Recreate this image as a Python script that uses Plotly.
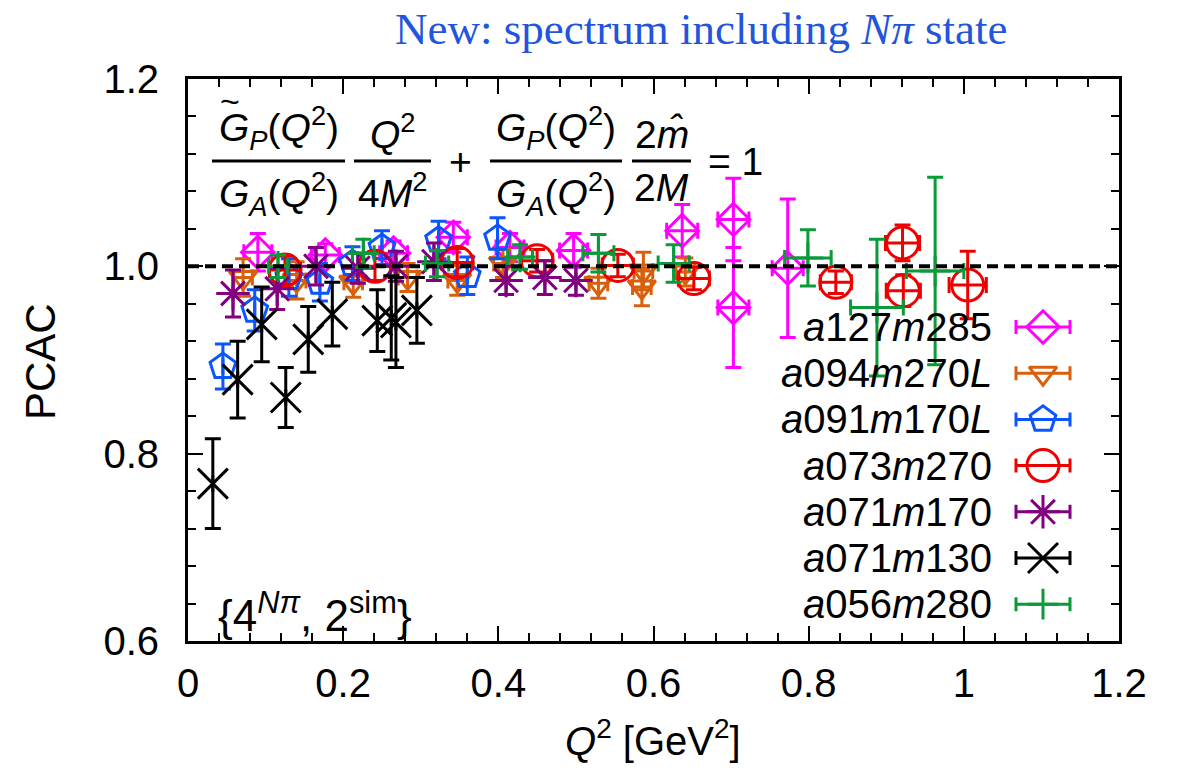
import plotly.graph_objects as go

# ---- data: PCAC ratio vs Q^2 for each ensemble ----
labels = ["a127m285", "a094m270L", "a091m170L", "a073m270", "a071m170", "a071m130", "a056m280"]

q2_a127m285 = [0.090, 0.177, 0.265, 0.342, 0.415, 0.497, 0.637, 0.703, 0.703, 0.773]
pc_a127m285 = [1.015, 1.012, 1.014, 1.031, 1.020, 1.017, 1.038, 1.050, 0.956, 0.998]
er_a127m285 = [0.020, 0.012, 0.013, 0.016, 0.015, 0.018, 0.028, 0.044, 0.064, 0.074]
xe_a127m285 = [0.018, 0.018, 0.018, 0.018, 0.018, 0.018, 0.020, 0.020, 0.020, 0.020]

q2_a094m270L = [0.071, 0.140, 0.213, 0.283, 0.347, 0.406, 0.529, 0.585, 0.587, 0.641]
pc_a094m270L = [0.988, 0.985, 0.983, 0.988, 0.985, 1.003, 0.982, 0.978, 0.995, 0.994]
er_a094m270L = [0.020, 0.020, 0.016, 0.015, 0.016, 0.015, 0.016, 0.020, 0.020, 0.015]
xe_a094m270L = [0.012, 0.012, 0.012, 0.012, 0.012, 0.012, 0.012, 0.012, 0.012, 0.012]

q2_a091m170L = [0.045, 0.086, 0.130, 0.170, 0.212, 0.250, 0.323, 0.360, 0.399]
pc_a091m170L = [0.893, 0.953, 0.988, 0.983, 1.003, 1.020, 1.028, 0.990, 1.030]
er_a091m170L = [0.024, 0.022, 0.020, 0.020, 0.018, 0.018, 0.020, 0.020, 0.022]
xe_a091m170L = [0, 0, 0, 0, 0, 0, 0, 0, 0]

q2_a073m270 = [0.125, 0.241, 0.347, 0.450, 0.554, 0.652, 0.835, 0.921, 0.922, 1.005]
pc_a073m270 = [0.996, 1.000, 1.004, 1.006, 1.001, 0.987, 0.983, 1.025, 0.974, 0.980]
er_a073m270 = [0.015, 0.015, 0.015, 0.012, 0.012, 0.012, 0.012, 0.019, 0.017, 0.036]
xe_a073m270 = [0.020, 0.020, 0.020, 0.020, 0.020, 0.020, 0.020, 0.022, 0.022, 0.024]

q2_a071m170 = [0.058, 0.115, 0.165, 0.219, 0.268, 0.317, 0.410, 0.460, 0.500]
pc_a071m170 = [0.971, 0.976, 1.000, 0.998, 1.000, 1.005, 0.985, 0.988, 0.985]
er_a071m170 = [0.025, 0.022, 0.020, 0.016, 0.016, 0.020, 0.015, 0.018, 0.016]
xe_a071m170 = [0, 0, 0, 0, 0, 0, 0, 0, 0]

q2_a071m130 = [0.032, 0.064, 0.095, 0.126, 0.155, 0.186, 0.244, 0.262, 0.268, 0.295]
pc_a071m130 = [0.768, 0.879, 0.938, 0.860, 0.922, 0.949, 0.942, 0.945, 0.940, 0.953]
er_a071m130 = [0.048, 0.041, 0.040, 0.032, 0.035, 0.034, 0.033, 0.045, 0.048, 0.035]
xe_a071m130 = [0, 0, 0, 0, 0, 0, 0, 0, 0, 0]

q2_a056m280 = [0.116, 0.226, 0.321, 0.428, 0.529, 0.626, 0.799, 0.888, 0.963]
pc_a056m280 = [1.000, 1.014, 1.003, 1.010, 1.014, 1.003, 1.009, 0.956, 0.995]
er_a056m280 = [0.012, 0.015, 0.014, 0.013, 0.020, 0.020, 0.030, 0.073, 0.100]
xe_a056m280 = [0.012, 0.014, 0.015, 0.016, 0.020, 0.020, 0.030, 0.034, 0.037]

x_ticks = [0, 0.2, 0.4, 0.6, 0.8, 1.0, 1.2]
x_ticktext = ["0", "0.2", "0.4", "0.6", "0.8", "1", "1.2"]
y_ticks = [0.6, 0.8, 1.0, 1.2]
y_ticktext = ["0.6", "0.8", "1.0", "1.2"]

# ---- styles ----
series = [
    (q2_a127m285, pc_a127m285, er_a127m285, xe_a127m285, "#ff00ff", "diamond-open", 25),
    (q2_a094m270L, pc_a094m270L, er_a094m270L, xe_a094m270L, "#d8600c", "triangle-down-open", 24),
    (q2_a091m170L, pc_a091m170L, er_a091m170L, xe_a091m170L, "#0a55ff", "pentagon-open", 27),
    (q2_a073m270, pc_a073m270, er_a073m270, xe_a073m270, "#ee0000", "circle-open", 32),
    (q2_a071m170, pc_a071m170, er_a071m170, xe_a071m170, "#800080", "asterisk-open", 28),
    (q2_a071m130, pc_a071m130, er_a071m130, xe_a071m130, "#000000", "x-thin-open", 30),
    (q2_a056m280, pc_a056m280, er_a056m280, xe_a056m280, "#0a9a3a", "cross-thin-open", 22),
]

FONT = "Liberation Sans"
FS = 40

# plot area in pixels
L, R, T, B = 188, 1119, 79, 641
W, H = R - L, B - T


def fx(px):
    return (px - L) / W


def fy(py):
    return (B - py) / H


fig = go.Figure()

for q2, pc, er, xe, col, sym, size in series:
    fig.add_trace(go.Scatter(
        x=q2, y=pc, mode="markers", showlegend=False,
        marker=dict(symbol=sym, size=size, color=col, line=dict(color=col, width=3)),
        error_y=dict(type="data", array=er, color=col, thickness=3, width=8),
        error_x=dict(type="data", array=xe, color=col, thickness=3, width=8),
    ))

# key: text on the left, sample with horizontal bar on the right
row0, drow = 327, 46.2
for i, (lab, s) in enumerate(zip(labels, series)):
    col, sym, size = s[4], s[5], s[6]
    yy = fy(row0 + i * drow)
    fig.add_trace(go.Scatter(
        x=[fx(1043)], y=[yy], xaxis="x2", yaxis="y2", mode="markers", showlegend=False,
        marker=dict(symbol=sym, size=size, color=col, line=dict(color=col, width=3)),
        error_x=dict(type="data", array=[27 / W], color=col, thickness=3, width=7),
    ))
    txt = f"<i>{lab[0]}</i>{lab[1:4]}<i>m</i>{lab[5:]}".replace("L", "<i>L</i>")
    fig.add_annotation(xref="paper", yref="paper", x=fx(994), y=yy, text=txt,
                       showarrow=False, xanchor="right", yanchor="middle",
                       font=dict(family=FONT, size=FS, color="black"))

# reference line at PCAC = 1
fig.add_shape(type="line", xref="x", yref="y", x0=0, x1=1.2, y0=1.0, y1=1.0,
              line=dict(color="black", width=4, dash="11px,6px"), layer="above")

# relation shown as stacked fractions
FF = 39
bar_y = 161
fracs = [
    ((212, 345), "<i>G</i><sub><i>P</i></sub>(<i>Q</i><sup>2</sup>)", "<i>G</i><sub><i>A</i></sub>(<i>Q</i><sup>2</sup>)"),
    ((354, 431), "<i>Q</i><sup>2</sup>", "4<i>M</i><sup>2</sup>"),
    ((490, 622), "<i>G</i><sub><i>P</i></sub>(<i>Q</i><sup>2</sup>)", "<i>G</i><sub><i>A</i></sub>(<i>Q</i><sup>2</sup>)"),
    ((632, 691), "2<i>m̂</i>", "2<i>M</i>"),
]
for (x0, x1), num, den in fracs:
    fig.add_shape(type="line", xref="paper", yref="paper", x0=fx(x0), x1=fx(x1),
                  y0=fy(bar_y), y1=fy(bar_y), line=dict(color="black", width=3))
    cx = fx((x0 + x1) / 2)
    fig.add_annotation(xref="paper", yref="paper", x=cx, y=fy(bar_y - 3), text=num,
                       showarrow=False, xanchor="center", yanchor="bottom",
                       font=dict(family=FONT, size=FF, color="black"))
    fig.add_annotation(xref="paper", yref="paper", x=cx, y=fy(bar_y + 3), text=den,
                       showarrow=False, xanchor="center", yanchor="top",
                       font=dict(family=FONT, size=FF, color="black"))
# wide tilde over the first G
fig.add_annotation(xref="paper", yref="paper", x=fx(230), y=fy(101), text="~",
                   showarrow=False, xanchor="center", yanchor="middle",
                   font=dict(family=FONT, size=34, color="black"))
fig.add_annotation(xref="paper", yref="paper", x=fx(460), y=fy(bar_y), text="+",
                   showarrow=False, xanchor="center", yanchor="middle",
                   font=dict(family=FONT, size=FF, color="black"))
fig.add_annotation(xref="paper", yref="paper", x=fx(735), y=fy(bar_y), text="= 1",
                   showarrow=False, xanchor="center", yanchor="middle",
                   font=dict(family=FONT, size=FF, color="black"))

# fit setup tag
fig.add_annotation(xref="paper", yref="paper", x=fx(315), y=fy(642),
                   text="{4<sup><i>Nπ</i></sup>, 2<sup>sim</sup>}",
                   showarrow=False, xanchor="center", yanchor="bottom",
                   font=dict(family=FONT, size=44, color="black"))

# title
fig.add_annotation(xref="paper", yref="paper", x=fx(701), y=fy(29),
                   text="New: spectrum including <i>Nπ</i> state",
                   showarrow=False, xanchor="center", yanchor="middle",
                   font=dict(family="Liberation Serif", size=45, color="#2255dd"))

# axis titles
fig.add_annotation(xref="paper", yref="paper", x=fx(40), y=fy(362), text="PCAC",
                   textangle=-90, showarrow=False, xanchor="center", yanchor="middle",
                   font=dict(family=FONT, size=42, color="black"))
fig.add_annotation(xref="paper", yref="paper", x=fx(653), y=fy(738),
                   text="<i>Q</i><sup>2</sup> [GeV<sup>2</sup>]",
                   showarrow=False, xanchor="center", yanchor="middle",
                   font=dict(family=FONT, size=40, color="black"))

axis_common = dict(
    showline=True, linecolor="black", linewidth=3, mirror="allticks",
    ticks="inside", ticklen=15, tickwidth=2, tickcolor="black",
    showgrid=False, zeroline=False,
    tickfont=dict(family=FONT, size=FS, color="black"),
    minor=dict(ticks="inside", ticklen=8, tickwidth=2, tickcolor="black", dtick=0.04, showgrid=False),
)

fig.update_layout(
    width=1183, height=768,
    margin=dict(l=L, r=1183 - R, t=T, b=768 - B),
    paper_bgcolor="white", plot_bgcolor="white",
    xaxis=dict(range=[0, 1.2], tickvals=x_ticks, ticktext=x_ticktext,
               ticklabelstandoff=5, **axis_common),
    yaxis=dict(range=[0.6, 1.2], tickvals=y_ticks, ticktext=y_ticktext,
               ticklabelstandoff=18, **axis_common),
    xaxis2=dict(overlaying="x", range=[0, 1], visible=False),
    yaxis2=dict(overlaying="y", range=[0, 1], visible=False),
)

fig.write_html("out.html")
